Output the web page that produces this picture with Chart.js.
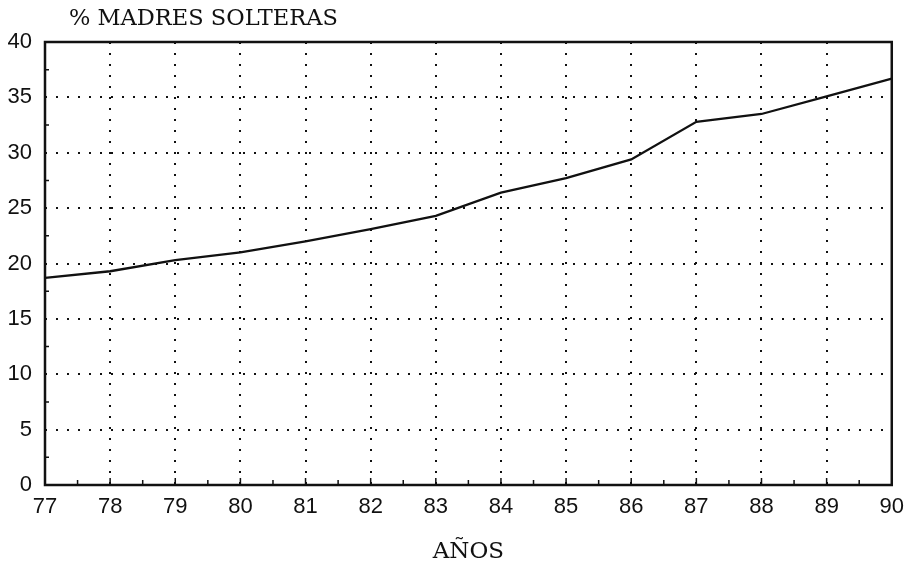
<!DOCTYPE html>
<html>
<head>
<meta charset="utf-8">
<script src="https://cdn.jsdelivr.net/npm/chart.js@4.4.0/dist/chart.umd.min.js"></script>
<style>
  body { margin: 0; background: #fff; }
  #wrap { position: relative; width: 913px; height: 566px; }
  #titulo {
    position: absolute; left: 69px; top: 4px;
    font-family: "DejaVu Serif", serif; font-size: 22.5px; color: #111;
  }
</style>
</head>
<body>
<div id="wrap">
  <div id="titulo">% MADRES SOLTERAS</div>
  <canvas id="grafico" width="913" height="566"></canvas>
</div>
<script>
// Años (eje X) y porcentaje de madres solteras
const anios = [77, 78, 79, 80, 81, 82, 83, 84, 85, 86, 87, 88, 89, 90];
const porcentaje = [18.7, 19.3, 20.3, 21.0, 22.0, 23.1, 24.3, 26.4, 27.7, 29.4, 32.8, 33.5, 35.1, 36.7];
const ticksY = [0, 5, 10, 15, 20, 25, 30, 35, 40];

const fuenteEjes = { family: '"Liberation Sans", Arial, sans-serif', size: 22 };

// Marco del área y marcas menores en los ejes
const marco = {
  id: 'marco',
  afterDraw(chart) {
    const { ctx, chartArea: a, scales } = chart;
    ctx.save();
    ctx.strokeStyle = '#111';
    ctx.lineWidth = 2.5;
    ctx.strokeRect(a.left, a.top, a.right - a.left, a.bottom - a.top);
    ctx.lineWidth = 1.5;
    ctx.beginPath();
    for (let v = anios[0]; v <= anios[anios.length - 1]; v += 0.5) {
      const x = scales.x.getPixelForValue(v);
      const largo = Number.isInteger(v) ? 7 : 5;
      ctx.moveTo(x, a.bottom);
      ctx.lineTo(x, a.bottom - largo);
    }
    for (let v = 2.5; v < 40; v += 5) {
      const y = scales.y.getPixelForValue(v);
      ctx.moveTo(a.left, y);
      ctx.lineTo(a.left + 4, y);
    }
    ctx.stroke();
    ctx.restore();
  }
};

new Chart(document.getElementById('grafico'), {
  type: 'line',
  data: {
    datasets: [{
      data: anios.map((a, i) => ({ x: a, y: porcentaje[i] })),
      borderColor: '#111',
      borderWidth: 2.3,
      pointRadius: 0,
      tension: 0,
      fill: false
    }]
  },
  options: {
    responsive: false,
    animation: false,
    layout: { padding: { top: 42, right: 20, left: 0, bottom: 0 } },
    plugins: { legend: { display: false }, tooltip: { enabled: false } },
    scales: {
      x: {
        type: 'linear',
        min: 77,
        max: 90,
        afterBuildTicks: s => { s.ticks = anios.map(v => ({ value: v })); },
        afterFit: s => { s.height = 81; },
        ticks: { color: '#111', font: fuenteEjes, padding: 9, maxRotation: 0 },
        grid: { color: '#111', lineWidth: 2, drawTicks: false },
        border: { display: false, dash: [2, 9] },
        title: {
          display: true,
          text: 'AÑOS',
          color: '#111',
          font: { family: '"DejaVu Serif", serif', size: 23 },
          padding: { top: 0, bottom: 0 }
        }
      },
      y: {
        min: 0,
        max: 40,
        afterBuildTicks: s => { s.ticks = ticksY.map(v => ({ value: v })); },
        afterFit: s => { s.width = 45; },
        ticks: { color: '#111', font: fuenteEjes, padding: 13 },
        grid: { color: '#111', lineWidth: 2, drawTicks: false },
        border: { display: false, dash: [2, 9] }
      }
    }
  },
  plugins: [marco]
});
</script>
</body>
</html>
